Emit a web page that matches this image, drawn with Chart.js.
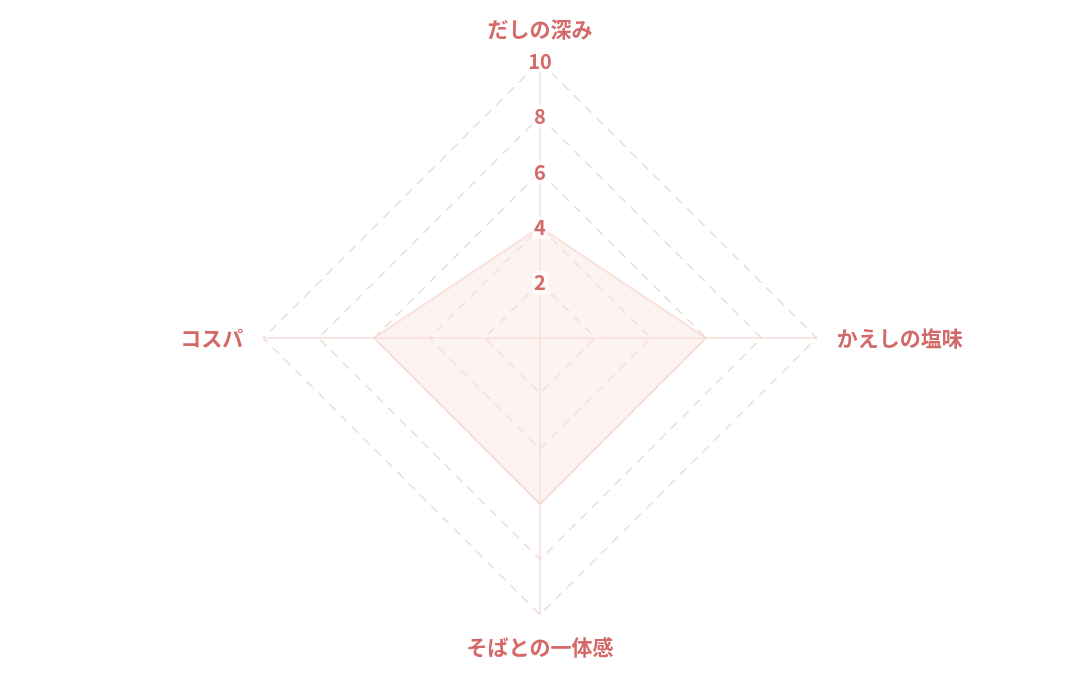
<!DOCTYPE html>
<html>
<head>
<meta charset="utf-8">
<script src="https://cdn.jsdelivr.net/npm/chart.js@4"></script>
<style>
  html, body { margin: 0; padding: 0; background: #ffffff; }
  #wrap { width: 1080px; height: 675px; }
</style>
</head>
<body>
<div id="wrap"><canvas id="radar"></canvas></div>
<script>
const labels = ["だしの深み", "かえしの塩味", "そばとの一体感", "コスパ"];
const scores = [4, 6, 6, 6];
const tickStep = 2;

document.addEventListener('DOMContentLoaded', function () {
    const red = '#d4696a';
    const data = {
        labels: labels,
        datasets: [
            {
                data: scores,
                backgroundColor: 'rgba(251, 226, 220, 0.4)',
                borderColor: 'rgba(248, 218, 210, 0.8)',
                borderWidth: 2,
                pointRadius: 0
            }
        ]
    };
    const config = {
        type: 'radar',
        data: data,
        options: {
            responsive: true,
            maintainAspectRatio: false,
            animation: false,
            layout: {
                padding: { top: 16, bottom: 14, left: 0, right: 0 }
            },
            scales: {
                r: {
                    min: 0,
                    max: 10,
                    ticks: {
                        stepSize: tickStep,
                        color: red,
                        z: 1,
                        showLabelBackdrop: true,
                        backdropColor: 'rgba(255, 255, 255, 0.7)',
                        backdropPadding: 2,
                        font: { family: 'Noto Sans CJK JP', size: 20, weight: 'bold' }
                    },
                    grid: {
                        color: '#e9dfd8',
                        lineWidth: 1.5
                    },
                    border: {
                        dash: [9, 7]
                    },
                    angleLines: {
                        color: '#f7dcd7',
                        lineWidth: 1.5
                    },
                    pointLabels: {
                        color: red,
                        padding: 8,
                        font: { family: 'Noto Sans CJK JP', size: 21, weight: 'bold' }
                    }
                }
            },
            plugins: {
                legend: { display: false },
                tooltip: { enabled: false }
            }
        }
    };
    new Chart(document.getElementById('radar'), config);
});
</script>
</body>
</html>
